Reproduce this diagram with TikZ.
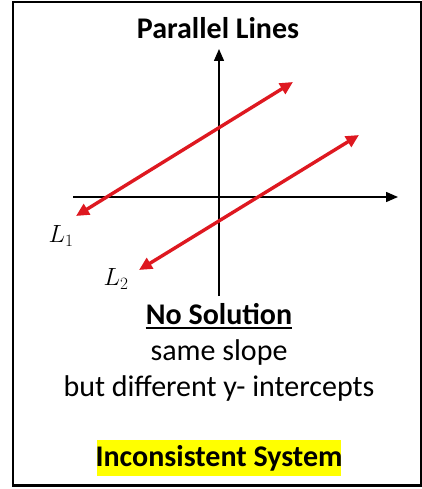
\documentclass[tikz,border=0pt]{standalone}
\usepackage{fontspec}
\setmainfont{Carlito}
\usetikzlibrary{arrows.meta}
\definecolor{linered}{RGB}{222,24,32}
\definecolor{hl}{RGB}{255,255,0}
\tikzset{
  axis/.style={line width=1.4pt, -{Triangle[length=12pt,width=10pt]}},
  redline/.style={linered, line width=3.4pt, {Triangle[length=13pt,width=12pt]}-{Triangle[length=13pt,width=12pt]}},
  txt/.style={font=\fontsize{30}{34}\selectfont, anchor=base, inner sep=0pt},
  btxt/.style={txt, font=\bfseries\fontsize{30}{34}\selectfont},
  lab/.style={font=\fontsize{25}{28}\selectfont, inner sep=0pt}
}
\begin{document}
\begin{tikzpicture}[x=1pt,y=-1pt]
\useasboundingbox (0,0) rectangle (422,489);
\draw[line width=2.2pt] (13,2) rectangle (421,485.5);
% title
\node[btxt] (title) at (218,39) {Parallel Lines};
% axes
\coordinate (ybot) at (219,296);
\coordinate (ytop) at (219,49);
\coordinate (xl) at (73,197);
\coordinate (xr) at (398,197);
\draw[axis] (ybot) -- (ytop);
\draw[axis] (xl) -- (xr);
% red lines
\coordinate (a1) at (76,216);
\coordinate (b1) at (293,82);
\coordinate (a2) at (139,270);
\coordinate (b2) at (359,135);
\draw[redline] (a1) -- (b1);
\draw[redline] (a2) -- (b2);
\node[lab] (L1) at (61,236) {$L_1$};
\node[lab] (L2) at (116,279) {$L_2$};
% text
\node[btxt] (ns) at (219,324) {No Solution};
\draw[line width=1.5pt] ([yshift=-4pt]ns.base west) -- ([yshift=-4pt]ns.base east);
\node[txt] (s1) at (219,360) {same slope};
\node[txt] (s2) at (219,396) {but different y- intercepts};
\fill[hl] (97,440) rectangle (341,476);
\node[btxt] (inc) at (219,466) {Inconsistent System};
\end{tikzpicture}
\end{document}
